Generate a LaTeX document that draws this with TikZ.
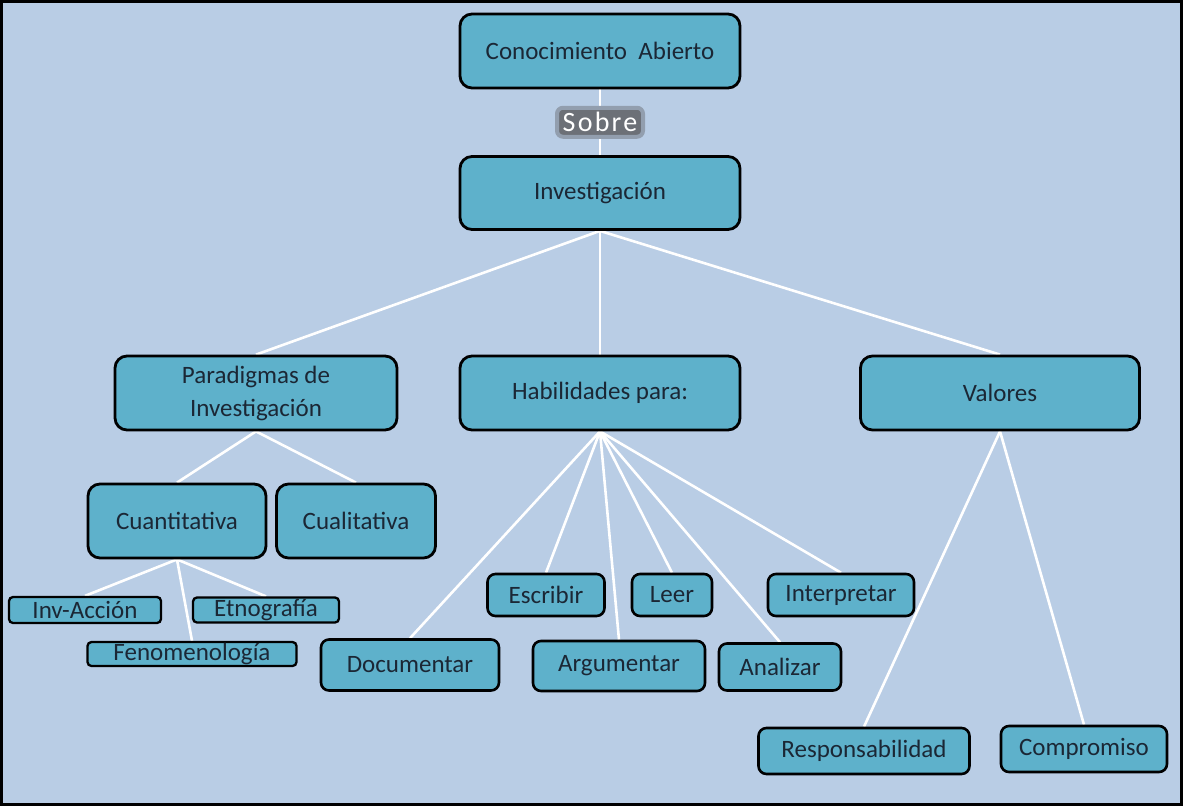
\documentclass[tikz,border=0pt]{standalone}
\usepackage{fontspec}
\setmainfont{Carlito}
\usetikzlibrary{backgrounds}
\definecolor{bgblue}{RGB}{185,205,229}
\definecolor{boxblue}{RGB}{94,177,203}
\definecolor{inkblue}{RGB}{27,39,53}
\definecolor{tagGray}{RGB}{108,112,119}

\begin{document}
\begin{tikzpicture}[x=1pt, y=-1pt,
        box/.style={draw=black, line width=2.8pt, rounded corners=12pt, fill=boxblue, text=inkblue,
            align=center, inner sep=0pt, font=\fontsize{25}{33}\selectfont},
        midbox/.style={box, line width=2.6pt, rounded corners=8pt},
        smallbox/.style={box, line width=2.3pt, rounded corners=4pt},
        tag/.style={fill=tagGray, draw=tagGray!50!bgblue, line width=4pt, rounded corners=6pt, text=white,
            minimum width=86pt, minimum height=29pt, inner sep=0pt,
            font=\fontsize{28}{30}\selectfont\addfontfeature{LetterSpace=8}},
        link/.style={white, line width=2.6pt}]
        \useasboundingbox (0,0) rectangle (1183,807);
        \node[box, minimum width=280pt, minimum height=74pt] (con) at (600,51) {Conocimiento~ Abierto};
        \node[box, minimum width=280pt, minimum height=73pt] (inv) at (600,193) {Investigación};
        \node[box, minimum width=282pt, minimum height=74pt] (par) at (256,393) {Paradigmas de\\Investigación};
        \node[box, minimum width=280pt, minimum height=74pt] (hab) at (600,393) {Habilidades para:};
        \node[box, minimum width=279pt, minimum height=74pt] (val) at (1000,393) {Valores};
        \node[box, minimum width=178pt, minimum height=74pt] (cuan) at (177,521) {Cuantitativa};
        \node[box, minimum width=159pt, minimum height=74pt] (cual) at (356,521) {Cualitativa};
        \node[smallbox, minimum width=152pt, minimum height=26pt] (inva) at (85,610) {Inv-Acción};
        \node[smallbox, minimum width=146pt, minimum height=25pt] (etn) at (266,610) {Etnografía};
        \node[smallbox, minimum width=209pt, minimum height=24pt] (fen) at (192,654) {Fenomenología};
        \node[midbox, minimum width=117pt, minimum height=42pt] (esc) at (546,595) {Escribir};
        \node[midbox, minimum width=80pt, minimum height=42pt] (lee) at (672,595) {Leer};
        \node[midbox, minimum width=146pt, minimum height=42pt] (int) at (841,595) {Interpretar};
        \node[midbox, minimum width=178pt, minimum height=51pt] (doc) at (410,665) {Documentar};
        \node[midbox, minimum width=172pt, minimum height=50pt] (arg) at (619,666) {Argumentar};
        \node[midbox, minimum width=122pt, minimum height=47pt] (ana) at (780,667) {Analizar};
        \node[midbox, minimum width=211pt, minimum height=46pt] (res) at (864,751) {Responsabilidad};
        \node[midbox, minimum width=166pt, minimum height=46pt] (com) at (1084,749) {Compromiso};
        \begin{scope}[on background layer]
            \draw[line width=3pt, fill=bgblue] (1.5,1.5) rectangle (1181.5,804.5);
            \draw[link] (con) -- node[tag] (sobre) {Sobre} (inv);
            \foreach \k in {par,hab,val}
                \draw[link] (inv.south) -- (\k.north);
            \foreach \k in {cuan,cual}
                \draw[link] (par.south) -- (\k.north);
            \foreach \k in {inva,etn,fen}
                \draw[link] (cuan.south) -- (\k.north);
            \foreach \k in {doc,esc,arg,lee,ana,int}
                \draw[link] (hab.south) -- (\k.north);
            \foreach \k in {res,com}
                \draw[link] (val.south) -- (\k.north);
        \end{scope}
    \end{tikzpicture}
\end{document}
